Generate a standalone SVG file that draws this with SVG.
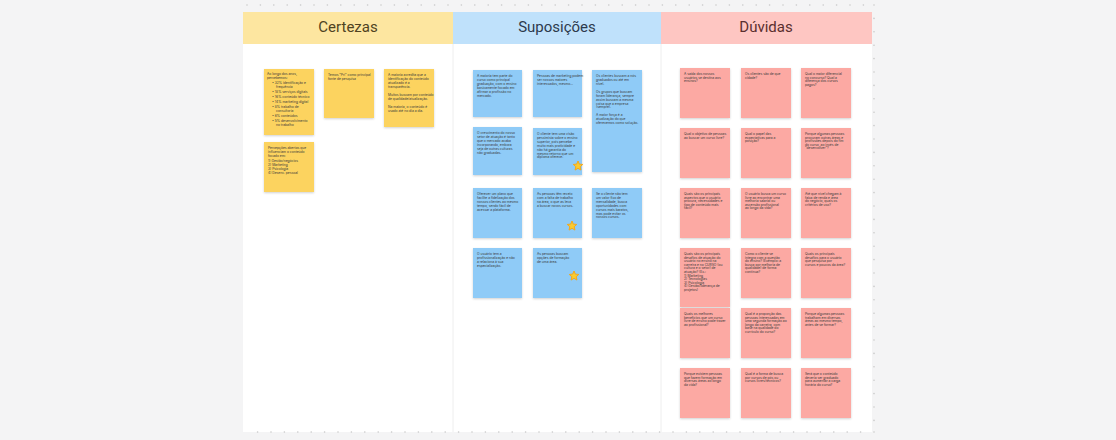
<svg xmlns="http://www.w3.org/2000/svg" xmlns:xlink="http://www.w3.org/1999/xlink" width="1116" height="440" viewBox="0 0 1116 440">
<style>
.hd{font-family:Roboto,"Liberation Sans",sans-serif;font-size:15px;text-anchor:middle}
.t{font-family:Inter,"Liberation Sans",sans-serif;font-size:3.3px;fill:#3a3a3a}
.y{fill:#fcd35e;filter:url(#sh)}
.b{fill:#8fcbf7;filter:url(#sh)}
.p{fill:#fca9a3;filter:url(#sh)}
.dot{stroke:#c9c9c9;stroke-width:1.6;stroke-linecap:round;stroke-dasharray:0 13.4;fill:none}
.sep{stroke:#eeeeee;stroke-width:1}
</style>
<defs>
<filter id="sh" x="-20%" y="-20%" width="140%" height="150%">
<feDropShadow dx="0" dy="1" stdDeviation="0.8" flood-color="#000" flood-opacity="0.18"/>
</filter>
<polygon id="star" points="0,-5 1.35,-1.86 4.76,-1.55 2.19,0.71 2.94,4.05 0,2.3 -2.94,4.05 -2.19,0.71 -4.76,-1.55 -1.35,-1.86" fill="#fbcb2e" stroke="#f2a81d" stroke-width="1" stroke-linejoin="round"/>
</defs>
<rect width="1116" height="440" fill="#f4f4f5"/>
<rect x="243" y="12" width="629" height="420" fill="#ffffff"/>
<g id="frame">
<path class="dot" d="M247 5 H874 M874 5 V432 M874 432 H247"/>
</g>
<g id="headers">
<rect x="243" y="12" width="210" height="32" fill="#fde6a0"/>
<rect x="453" y="12" width="208" height="32" fill="#bfe1fb"/>
<rect x="661" y="12" width="211" height="32" fill="#fec6c2"/>
<text class="hd" x="348" y="32" fill="#4f4322">Certezas</text>
<text class="hd" x="557" y="32" fill="#2d3a4d">Suposições</text>
<text class="hd" x="766" y="32" fill="#5a2f2f">Dúvidas</text>
</g>
<g id="connectors">
<line class="sep" x1="453" y1="44" x2="453" y2="432"/>
<line class="sep" x1="661" y1="44" x2="661" y2="432"/>
</g>

<!-- Certezas -->
<g id="c1"><rect class="y" x="264" y="69" width="50" height="66"/>
<text class="t" x="267" y="75"><tspan x="267">Ao longo dos anos,</tspan><tspan x="267" dy="4.3">percebemos:</tspan><tspan x="272" dy="4.8">• 32% identificação e</tspan><tspan x="276" dy="4.3">frequência</tspan><tspan x="272" dy="4.8">• 18% serviços digitais</tspan><tspan x="272" dy="4.8">• 16% conteúdo técnico</tspan><tspan x="272" dy="4.8">• 14% marketing digital</tspan><tspan x="272" dy="4.8">• 8% trabalho de</tspan><tspan x="276" dy="4.3">consultoria</tspan><tspan x="272" dy="4.8">• 6% conteúdos</tspan><tspan x="272" dy="4.8">• 5% desenvolvimento</tspan><tspan x="276" dy="4.3">no trabalho</tspan></text></g>
<g id="c2"><rect class="y" x="324" y="69" width="50" height="49"/>
<text class="t" x="328" y="76"><tspan x="328">Temos "Pri" como principal</tspan><tspan x="328" dy="4">fonte de pesquisa</tspan></text></g>
<g id="c3"><rect class="y" x="384" y="69" width="50" height="58"/>
<text class="t" x="388" y="76"><tspan x="388">A maioria acredita que a</tspan><tspan x="388" dy="4">identificação do conteúdo</tspan><tspan x="388" dy="4">atualizado é a</tspan><tspan x="388" dy="4">transparência.</tspan><tspan x="388" dy="8">Muitos buscam por conteúdo</tspan><tspan x="388" dy="4">de qualidade/atualização.</tspan><tspan x="388" dy="8">Na maioria, o conteúdo é</tspan><tspan x="388" dy="4">usado até no dia a dia.</tspan></text></g>
<g id="c4"><rect class="y" x="264" y="142" width="50" height="50"/>
<text class="t" x="268" y="149"><tspan x="268">Percepções abertas que</tspan><tspan x="268" dy="4.2">influenciam o conteúdo</tspan><tspan x="268" dy="4.2">focado em:</tspan><tspan x="268" dy="4.2">1) Gestão/negócios</tspan><tspan x="268" dy="4.2">2) Marketing</tspan><tspan x="268" dy="4.2">3) Psicologia</tspan><tspan x="268" dy="4.2">4) Desenv. pessoal</tspan></text></g>

<!-- Suposições -->
<g id="s1"><rect class="b" x="473" y="70" width="49" height="47"/>
<text class="t" x="477" y="77"><tspan x="477">A maioria tem parte do</tspan><tspan x="477" dy="3.9">curso como principal</tspan><tspan x="477" dy="3.9">graduação, com o ensino</tspan><tspan x="477" dy="3.9">basicamente focado em</tspan><tspan x="477" dy="3.9">afirmar a profissão no</tspan><tspan x="477" dy="3.9">mercado.</tspan></text></g>
<g id="s2"><rect class="b" x="533" y="70" width="49" height="47"/>
<text class="t" x="537" y="77"><tspan x="537">Pessoas de marketing podem</tspan><tspan x="537" dy="3.9">ser nossos maiores</tspan><tspan x="537" dy="3.9">interessados, mesmo...</tspan></text></g>
<g id="s3"><rect class="b" x="592" y="70" width="50" height="102"/>
<text class="t" x="596" y="77"><tspan x="596">Os clientes buscam a nós</tspan><tspan x="596" dy="3.9">graduados ou até em</tspan><tspan x="596" dy="3.9">nível.</tspan><tspan x="596" dy="8">Os grupos que buscam</tspan><tspan x="596" dy="3.9">foram liderança, sempre</tspan><tspan x="596" dy="3.9">assim buscam a mesma</tspan><tspan x="596" dy="3.9">coisa que a empresa</tspan><tspan x="596" dy="3.9">(sempre).</tspan><tspan x="596" dy="8">A maior força é a</tspan><tspan x="596" dy="3.9">atualização do que</tspan><tspan x="596" dy="3.9">oferecemos como solução.</tspan></text></g>
<g id="s4"><rect class="b" x="473" y="127" width="49" height="48"/>
<text class="t" x="477" y="134"><tspan x="477">O crescimento do nosso</tspan><tspan x="477" dy="3.9">setor de atuação é tanto</tspan><tspan x="477" dy="3.9">que o mercado acaba</tspan><tspan x="477" dy="3.9">incorporando, embora</tspan><tspan x="477" dy="3.9">seja de outras culturas</tspan><tspan x="477" dy="3.9">não graduadas.</tspan></text></g>
<g id="s5"><rect class="b" x="533" y="128" width="49" height="47"/>
<text class="t" x="537" y="135"><tspan x="537">O cliente tem uma visão</tspan><tspan x="537" dy="3.9">pessimista sobre o ensino</tspan><tspan x="537" dy="3.9">superior, pois percebe</tspan><tspan x="537" dy="3.9">muito mais praticidade e</tspan><tspan x="537" dy="3.9">não há garantia do</tspan><tspan x="537" dy="3.9">mesmo retorno que um</tspan><tspan x="537" dy="3.9">diploma oferece.</tspan></text>
<use xlink:href="#star" href="#star" x="578" y="166"/></g>
<g id="s6"><rect class="b" x="473" y="188" width="49" height="50"/>
<text class="t" x="477" y="195"><tspan x="477">Oferecer um plano que</tspan><tspan x="477" dy="3.9">facilite a fidelização dos</tspan><tspan x="477" dy="3.9">nossos clientes ao mesmo</tspan><tspan x="477" dy="3.9">tempo, sendo fácil de</tspan><tspan x="477" dy="3.9">acessar a plataforma.</tspan></text></g>
<g id="s7"><rect class="b" x="533" y="188" width="49" height="50"/>
<text class="t" x="537" y="195"><tspan x="537">As pessoas têm receio</tspan><tspan x="537" dy="3.9">com a falta de trabalho</tspan><tspan x="537" dy="3.9">na área, o que as leva</tspan><tspan x="537" dy="3.9">a buscar novos cursos.</tspan></text>
<use xlink:href="#star" href="#star" x="572" y="226"/></g>
<g id="s8"><rect class="b" x="592" y="188" width="50" height="50"/>
<text class="t" x="596" y="195"><tspan x="596">Se o cliente não tem</tspan><tspan x="596" dy="3.9">um valor fixo de</tspan><tspan x="596" dy="3.9">mensalidade, busca</tspan><tspan x="596" dy="3.9">oportunidades com</tspan><tspan x="596" dy="3.9">cursos mais baratos,</tspan><tspan x="596" dy="3.9">mas pode evitar os</tspan><tspan x="596" dy="3.9">nossos cursos.</tspan></text></g>
<g id="s9"><rect class="b" x="473" y="248" width="49" height="50"/>
<text class="t" x="477" y="255"><tspan x="477">O usuário tem a</tspan><tspan x="477" dy="3.9">profissionalização e não</tspan><tspan x="477" dy="3.9">a relaciona à sua</tspan><tspan x="477" dy="3.9">especialização.</tspan></text></g>
<g id="s10"><rect class="b" x="533" y="248" width="49" height="50"/>
<text class="t" x="537" y="255"><tspan x="537">As pessoas buscam</tspan><tspan x="537" dy="3.9">opções de formação</tspan><tspan x="537" dy="3.9">de uma área.</tspan></text>
<use xlink:href="#star" href="#star" x="574" y="276"/></g>

<!-- Dúvidas -->
<g id="d1"><rect class="p" x="680" y="68" width="50" height="50"/>
<text class="t" x="684" y="75"><tspan x="684">A saída dos nossos</tspan><tspan x="684" dy="3.6">usuários se destina aos</tspan><tspan x="684" dy="3.6">ensinos?</tspan></text></g>
<g id="d2"><rect class="p" x="741" y="68" width="50" height="50"/>
<text class="t" x="745" y="75"><tspan x="745">Os clientes são de que</tspan><tspan x="745" dy="3.6">cidade?</tspan></text></g>
<g id="d3"><rect class="p" x="801" y="68" width="50" height="50"/>
<text class="t" x="805" y="75"><tspan x="805">Qual o maior diferencial</tspan><tspan x="805" dy="3.6">no concurso? Qual a</tspan><tspan x="805" dy="3.6">diferença dos cursos</tspan><tspan x="805" dy="3.6">pagos?</tspan></text></g>
<g id="d4"><rect class="p" x="680" y="128" width="50" height="50"/>
<text class="t" x="684" y="135"><tspan x="684">Qual o objetivo de pessoas</tspan><tspan x="684" dy="3.6">ao buscar um curso livre?</tspan></text></g>
<g id="d5"><rect class="p" x="741" y="128" width="50" height="50"/>
<text class="t" x="745" y="135"><tspan x="745">Qual o papel das</tspan><tspan x="745" dy="3.6">expectativas para a</tspan><tspan x="745" dy="3.6">posição?</tspan></text></g>
<g id="d6"><rect class="p" x="801" y="128" width="50" height="50"/>
<text class="t" x="805" y="135"><tspan x="805">Porque algumas pessoas</tspan><tspan x="805" dy="3.6">procuram outras áreas e</tspan><tspan x="805" dy="3.6">profissões depois do fim</tspan><tspan x="805" dy="3.6">do curso, ao invés de</tspan><tspan x="805" dy="3.6">"desenvolver"?</tspan></text></g>
<g id="d7"><rect class="p" x="680" y="188" width="50" height="50"/>
<text class="t" x="684" y="195"><tspan x="684">Quais são os principais</tspan><tspan x="684" dy="3.6">aspectos que o usuário</tspan><tspan x="684" dy="3.6">procura, necessidades e</tspan><tspan x="684" dy="3.6">tipo de conteúdo mais</tspan><tspan x="684" dy="3.6">fácil?</tspan></text></g>
<g id="d8"><rect class="p" x="741" y="188" width="50" height="50"/>
<text class="t" x="745" y="195"><tspan x="745">O usuário busca um curso</tspan><tspan x="745" dy="3.6">livre ao encontrar uma</tspan><tspan x="745" dy="3.6">melhoria salarial ou</tspan><tspan x="745" dy="3.6">ascensão profissional</tspan><tspan x="745" dy="3.6">ao longo da vida?</tspan></text></g>
<g id="d9"><rect class="p" x="801" y="188" width="50" height="50"/>
<text class="t" x="805" y="195"><tspan x="805">Até que nível chegam à</tspan><tspan x="805" dy="3.6">faixa de renda e área</tspan><tspan x="805" dy="3.6">do negócio, quais os</tspan><tspan x="805" dy="3.6">critérios de uso?</tspan></text></g>
<g id="d10"><rect class="p" x="680" y="248" width="50" height="59"/>
<text class="t" x="684" y="255"><tspan x="684">Quais são os principais</tspan><tspan x="684" dy="3.6">desafios de atuação do</tspan><tspan x="684" dy="3.6">usuário no ensino na</tspan><tspan x="684" dy="3.6">carreira e no CURSO (ou</tspan><tspan x="684" dy="3.6">cultura e o setor) de</tspan><tspan x="684" dy="3.6">atuação? (Ex.:</tspan><tspan x="684" dy="3.6">1) Marketing</tspan><tspan x="684" dy="3.6">2) Tecnologias</tspan><tspan x="684" dy="3.6">3) Psicologia</tspan><tspan x="684" dy="3.6">4) Gestão/liderança de</tspan><tspan x="684" dy="3.6">projetos)</tspan></text></g>
<g id="d11"><rect class="p" x="741" y="248" width="50" height="50"/>
<text class="t" x="745" y="255"><tspan x="745">Como o cliente se</tspan><tspan x="745" dy="3.6">integra com a questão</tspan><tspan x="745" dy="3.6">do ensino? (Exemplo: a</tspan><tspan x="745" dy="3.6">busca por melhoria de</tspan><tspan x="745" dy="3.6">qualidade) de forma</tspan><tspan x="745" dy="3.6">contínua?</tspan></text></g>
<g id="d12"><rect class="p" x="801" y="248" width="50" height="50"/>
<text class="t" x="805" y="255"><tspan x="805">Quais os principais</tspan><tspan x="805" dy="3.6">desafios para o usuário</tspan><tspan x="805" dy="3.6">que pesquisa por</tspan><tspan x="805" dy="3.6">cursos e poucos da área?</tspan></text></g>
<g id="d13"><rect class="p" x="680" y="308" width="50" height="50"/>
<text class="t" x="684" y="315"><tspan x="684">Quais os melhores</tspan><tspan x="684" dy="3.6">benefícios que um curso</tspan><tspan x="684" dy="3.6">livre de ensino pode trazer</tspan><tspan x="684" dy="3.6">ao profissional?</tspan></text></g>
<g id="d14"><rect class="p" x="741" y="308" width="50" height="50"/>
<text class="t" x="745" y="315"><tspan x="745">Qual é a proporção das</tspan><tspan x="745" dy="3.6">pessoas interessadas em</tspan><tspan x="745" dy="3.6">uma segunda formação ao</tspan><tspan x="745" dy="3.6">longo da carreira, com</tspan><tspan x="745" dy="3.6">base na qualidade do</tspan><tspan x="745" dy="3.6">currículo do curso?</tspan></text></g>
<g id="d15"><rect class="p" x="801" y="308" width="50" height="50"/>
<text class="t" x="805" y="315"><tspan x="805">Porque algumas pessoas</tspan><tspan x="805" dy="3.6">trabalham em diversas</tspan><tspan x="805" dy="3.6">áreas ao mesmo tempo,</tspan><tspan x="805" dy="3.6">antes de se formar?</tspan></text></g>
<g id="d16"><rect class="p" x="680" y="368" width="50" height="50"/>
<text class="t" x="684" y="375"><tspan x="684">Porque existem pessoas</tspan><tspan x="684" dy="3.6">que fazem formação em</tspan><tspan x="684" dy="3.6">diversas áreas ao longo</tspan><tspan x="684" dy="3.6">da vida?</tspan></text></g>
<g id="d17"><rect class="p" x="741" y="368" width="50" height="50"/>
<text class="t" x="745" y="375"><tspan x="745">Qual é a forma de busca</tspan><tspan x="745" dy="3.6">por cursos de pós ou</tspan><tspan x="745" dy="3.6">cursos livres/técnicos?</tspan></text></g>
<g id="d18"><rect class="p" x="801" y="368" width="50" height="50"/>
<text class="t" x="805" y="375"><tspan x="805">Será que o conteúdo</tspan><tspan x="805" dy="3.6">deveria ser graduado</tspan><tspan x="805" dy="3.6">para aumentar a carga</tspan><tspan x="805" dy="3.6">horária do curso?</tspan></text></g>
</svg>
